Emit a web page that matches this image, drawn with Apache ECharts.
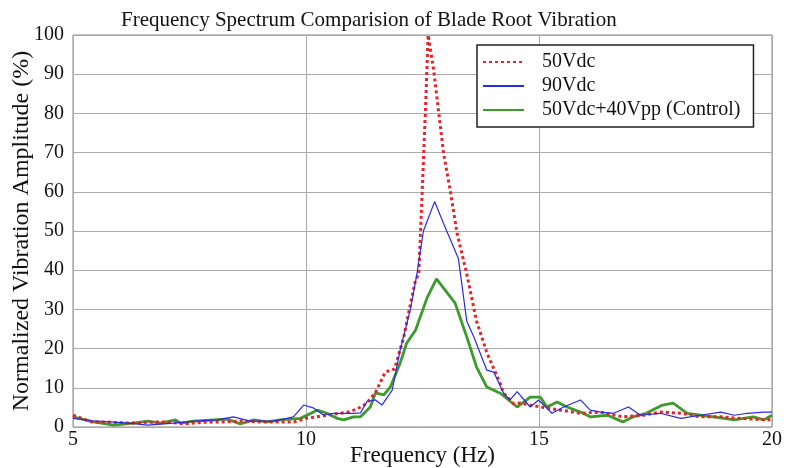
<!DOCTYPE html>
<html><head><meta charset="utf-8">
<script src="https://cdn.jsdelivr.net/npm/echarts@6/dist/echarts.min.js"></script>
<style>html,body{margin:0;padding:0;background:#fff}#c{width:786px;height:468px}</style>
</head><body><div id="c"></div>
<script>
const seriesNames = ['50Vdc', '90Vdc', '50Vdc+40Vpp (Control)'];
const xTicks = [5, 10, 15, 20];
const yTicks = [0, 10, 20, 30, 40, 50, 60, 70, 80, 90, 100];

const redX = [5.0,5.4,5.8,6.2,6.6,7.0,7.4,7.8,8.2,8.6,9.0,9.4,9.75,10.0,10.45,10.9,11.1,11.3,11.5,11.7,11.9,12.1,12.2,12.35,12.42,12.5,12.57,12.62,12.74,12.85,12.95,13.1,13.24,13.45,13.66,13.88,14.17,14.24,14.45,14.6,15.03,15.46,15.89,16.32,16.8,17.24,17.6,18.04,18.47,18.9,19.32,19.9,20.0];
const redY = [3.0,1.3,1.2,1.0,1.2,1.3,0.8,1.2,1.3,1.5,1.3,1.3,1.3,2.2,3.0,3.8,4.6,6.0,9.0,14.0,14.8,23,29,37.5,39,62,83,100,91,80,70,60,49.5,39,27,19,11,8.6,6.0,6.1,5.1,4.3,3.5,3.8,2.6,3.0,3.8,3.5,2.6,2.6,2.2,1.8,2.0];

const blueX = [5.0,5.4,5.8,6.2,6.6,7.16,7.59,8.1,8.44,8.8,9.3,9.59,9.73,9.95,10.17,10.38,10.59,11.02,11.17,11.31,11.49,11.63,11.85,12.02,12.24,12.38,12.52,12.76,12.95,13.27,13.45,13.6,13.88,14.03,14.24,14.38,14.53,14.81,14.99,15.28,15.53,15.89,16.1,16.32,16.6,16.92,17.18,17.6,18.04,18.47,18.9,19.19,19.47,19.82,20.0];
const blueY = [2.2,1.6,1.3,1.0,0.5,1.0,1.5,1.8,2.6,1.5,1.5,2.2,2.6,5.6,4.8,3.0,3.5,3.5,3.6,6.5,6.9,5.6,9.4,19.6,30,39,50,57.5,52,43,27,23,14.5,14,8.6,6.9,9.0,5.1,6.9,3.5,5.1,6.9,4.3,3.8,3.5,5.1,3.0,3.5,2.2,3.0,3.8,3.0,3.5,3.8,3.8];

const greenX = [5.0,5.44,5.87,6.3,6.6,6.88,7.2,7.31,7.59,8.02,8.31,8.59,8.88,9.17,9.45,9.88,10.24,10.45,10.67,10.81,11.02,11.17,11.38,11.49,11.67,11.81,12.02,12.16,12.35,12.6,12.8,13.2,13.45,13.66,13.88,14.17,14.53,14.81,15.03,15.17,15.39,15.6,15.89,16.1,16.47,16.8,17.02,17.3,17.65,17.88,18.18,18.47,18.75,19.19,19.6,19.82,20.0];
const greenY = [2.6,1.3,0.5,1.0,1.5,1.0,1.8,1.0,1.5,1.8,2.0,0.8,1.8,1.3,1.8,2.2,4.3,3.5,2.2,1.8,2.6,2.6,5.1,8.7,8.2,10.2,16.3,21.4,24.7,33,37.8,31.6,23,15.3,10.2,8.6,5.1,7.6,7.6,5.1,6.4,5.1,3.8,2.6,3.0,1.3,2.6,3.5,5.6,6.1,3.5,3.0,2.6,1.8,2.6,1.8,3.0];

function pairs(xs, ys){ return xs.map((x,i)=>[x, ys[i]]); }

const FONT = 'Liberation Serif';
const chart = echarts.init(document.getElementById('c'), null, {renderer:'canvas'});
chart.setOption({
  animation:false,
  backgroundColor:'#fff',
  textStyle:{fontFamily:FONT},
  title:{text:'Frequency Spectrum Comparision of Blade Root Vibration', left:116, top:5,
    textStyle:{fontFamily:FONT, fontSize:21, fontWeight:'normal', color:'#111'}},
  grid:{left:73, right:14, top:35, bottom:41, show:true, borderColor:'#888', borderWidth:1,
    backgroundColor:'transparent', containLabel:false, outerBoundsMode:'none'},
  legend:{
    data:seriesNames, orient:'vertical', left:477, top:45,
    padding:[6,13,6,5], itemGap:2, itemWidth:41, itemHeight:14,
    itemStyle:{opacity:0},
    borderColor:'#222', borderWidth:1.5, backgroundColor:'#fff',
    textStyle:{fontFamily:FONT, fontSize:20, lineHeight:22, color:'#111', padding:[0,0,0,13]}
  },
  xAxis:{type:'value', min:5, max:20, interval:5,
    name:'Frequency (Hz)', nameLocation:'middle', nameGap:17, nameMoveOverlap:false,
    nameTextStyle:{fontFamily:FONT, fontSize:23, color:'#111'},
    axisLine:{show:false}, axisTick:{show:false},
    axisLabel:{fontFamily:FONT, fontSize:20, color:'#111', margin:3,
      formatter:v=>xTicks.includes(v)?String(v):''},
    splitLine:{show:true, lineStyle:{color:'#aaa', width:1}}},
  yAxis:{type:'value', min:0, max:100, interval:10,
    name:'Normalized Vibration Amplitude (%)', nameLocation:'middle', nameGap:39, nameMoveOverlap:false,
    nameTextStyle:{fontFamily:FONT, fontSize:24, color:'#111'},
    axisLine:{show:false}, axisTick:{show:false},
    axisLabel:{fontFamily:FONT, fontSize:20, color:'#111', margin:9,
      formatter:v=>yTicks.includes(v)?String(v):''},
    splitLine:{show:true, lineStyle:{color:'#aaa', width:1}}},
  series:[
    {name:seriesNames[0], type:'line', data:pairs(redX, redY), showSymbol:false, symbol:'none', z:3,
     lineStyle:{color:'#e8232a', width:3, type:[3,3]}, itemStyle:{color:'#e8232a'}},
    {name:seriesNames[1], type:'line', data:pairs(blueX, blueY), showSymbol:false, symbol:'none', z:4,
     lineStyle:{color:'#2a2ae6', width:1.2}, itemStyle:{color:'#2a2ae6'}},
    {name:seriesNames[2], type:'line', data:pairs(greenX, greenY), showSymbol:false, symbol:'none', z:2,
     lineStyle:{color:'#3d9a2d', width:2.8}, itemStyle:{color:'#3d9a2d'}}
  ]
});
</script></body></html>
